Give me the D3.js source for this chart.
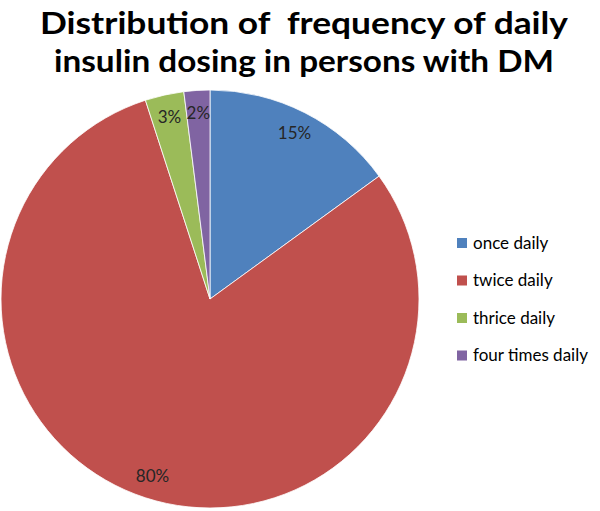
<!DOCTYPE html>
<html><head><meta charset="utf-8">
<script src="https://cdn.jsdelivr.net/npm/d3@7"></script>
<style>body{margin:0;background:#fff}</style>
</head><body>
<svg id="c" width="600" height="511"></svg>
<script>
const categories = ["once daily","twice daily","thrice daily","four times daily"];
const values = [15, 80, 3, 2];
const labels = ["15%","80%","3%","2%"];
const colors = ["#4F81BD","#C0504D","#9BBB59","#8064A2"];
const titleLines = ["Distribution of  frequency of daily","insulin dosing in persons with DM"];

const svg = d3.select("#c");
const cx = 210, cy = 299, r = 209;
const g = svg.append("g").attr("transform",`translate(${cx},${cy})`);
const pie = d3.pie().sort(null).value(d=>d)(values);
const arc = d3.arc().innerRadius(0).outerRadius(r);
g.selectAll("path").data(pie).join("path")
  .attr("d",arc).attr("fill",(d,i)=>colors[i])
  .attr("stroke","#fff").attr("stroke-width",0.8);

const labelR = 0.89;
g.selectAll("text.l").data(pie).join("text").attr("class","l")
  .attr("transform",(d,i)=>{const a=(d.startAngle+d.endAngle)/2; const rr=r*labelR;
     return `translate(${Math.sin(a)*rr},${-Math.cos(a)*rr})`;})
  .attr("text-anchor","middle").attr("dy","0.35em")
  .attr("font-family","Lato, 'Open Sans', sans-serif").attr("font-size",17)
  .attr("fill","#262626").text((d,i)=>labels[i]);

svg.selectAll("text.t").data(titleLines).join("text").attr("class","t")
  .style("white-space","pre").attr("xml:space","preserve")
  .attr("x",304).attr("y",(d,i)=>34+i*38).attr("text-anchor","middle")
  .attr("font-family","Lato, sans-serif").attr("font-weight","bold").attr("font-size",30)
  .attr("fill","#000").text(d=>d)
  .attr("textLength",(d,i)=>[528,500][i]).attr("lengthAdjust","spacingAndGlyphs");

const lg = svg.append("g");
const rows = lg.selectAll("g").data(categories).join("g")
  .attr("transform",(d,i)=>`translate(457,${243+i*37.5})`);
rows.append("rect").attr("x",0).attr("y",-5).attr("width",10).attr("height",10)
  .attr("fill",(d,i)=>colors[i]);
rows.append("text").attr("x",16).attr("dy","0.35em")
  .attr("font-family","Lato, sans-serif").attr("font-size",17).attr("fill","#000").text(d=>d);
</script>
</body></html>
